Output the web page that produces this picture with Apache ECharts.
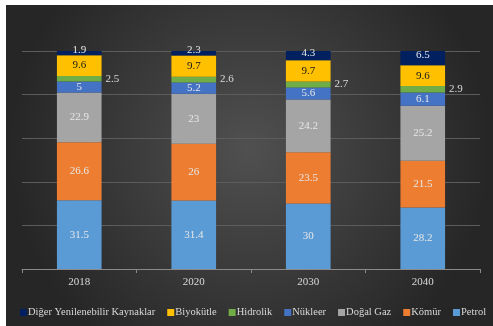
<!DOCTYPE html>
<html><head><meta charset="utf-8">
<script src="https://cdn.jsdelivr.net/npm/echarts@6/dist/echarts.min.js"></script>
<style>
html,body{margin:0;padding:0;background:#fff;width:493px;height:326px;overflow:hidden}
#c{position:absolute;left:6px;top:5px;width:487px;height:321px}
</style></head><body><div id="c"></div>
<script>
const categories = ['2018','2020','2030','2040'];
const petrol   = [31.5, 31.4, 30, 28.2];
const komur    = [26.6, 26, 23.5, 21.5];
const dogalGaz = [22.9, 23, 24.2, 25.2];
const nukleer  = [5, 5.2, 5.6, 6.1];
const hidrolik = [2.5, 2.6, 2.7, 2.9];
const biyokutle= [9.6, 9.7, 9.7, 9.6];
const diger    = [1.9, 2.3, 4.3, 6.5];
const yTicks = [0, 20, 40, 60, 80, 100];

const serif = '"Liberation Serif","DejaVu Serif",serif';
const lbl = (color, pos, extra) => Object.assign({show:true, position:pos||'inside', color:color, fontFamily:serif, fontSize:11}, extra||{});

function s(name, data, color, label){
  return {name:name, type:'bar', stack:'t', data:data, barWidth:'39%',
    itemStyle:{color:color}, label:label};
}

const chart = echarts.init(document.getElementById('c'));
chart.setOption({
  animation:false,
  backgroundColor:{type:'radial', x:0.5, y:0.45, r:0.75,
    colorStops:[{offset:0,color:'#505050'},{offset:1,color:'#262626'}]},
  grid:{left:16, right:13, top:46, bottom:57},
  xAxis:{type:'category', data:categories,
    axisLine:{lineStyle:{color:'#8a8a8a'}},
    axisTick:{show:true, alignWithLabel:false, length:4, lineStyle:{color:'#8a8a8a'}},
    axisLabel:{color:'#d9d9d9', fontFamily:serif, fontSize:11, margin:8}},
  yAxis:{type:'value', min:yTicks[0], max:yTicks[yTicks.length-1], interval:20,
    axisLabel:{show:false}, axisLine:{show:false}, axisTick:{show:false},
    splitLine:{lineStyle:{color:'#5c5c5c', width:1}}},
  legend:{top:302, left:14, width:482, padding:0, itemWidth:7, itemHeight:7, itemGap:12,
    icon:'rect', orient:'horizontal',
    textStyle:{color:'#d9d9d9', fontFamily:serif, fontSize:10.5, padding:[0,0,0,-4]},
    data:['Diğer Yenilenebilir Kaynaklar','Biyokütle','Hidrolik','Nükleer','Doğal Gaz','Kömür','Petrol']},
  series:[
    s('Petrol', petrol, '#5b9bd5', lbl('#e6e6e6')),
    s('Kömür', komur, '#ed7d31', lbl('#e6e6e6')),
    s('Doğal Gaz', dogalGaz, '#a5a5a5', lbl('#e6e6e6')),
    s('Nükleer', nukleer, '#4472c4', lbl('#e6e6e6')),
    s('Hidrolik', hidrolik, '#70ad47', lbl('#d9d9d9','right',{distance:4})),
    s('Biyokütle', biyokutle, '#ffc000', lbl('#1a1a1a')),
    s('Diğer Yenilenebilir Kaynaklar', diger, '#002060', lbl('#e6e6e6','inside',{offset:[0,-3]}))
  ]
});
</script></body></html>
